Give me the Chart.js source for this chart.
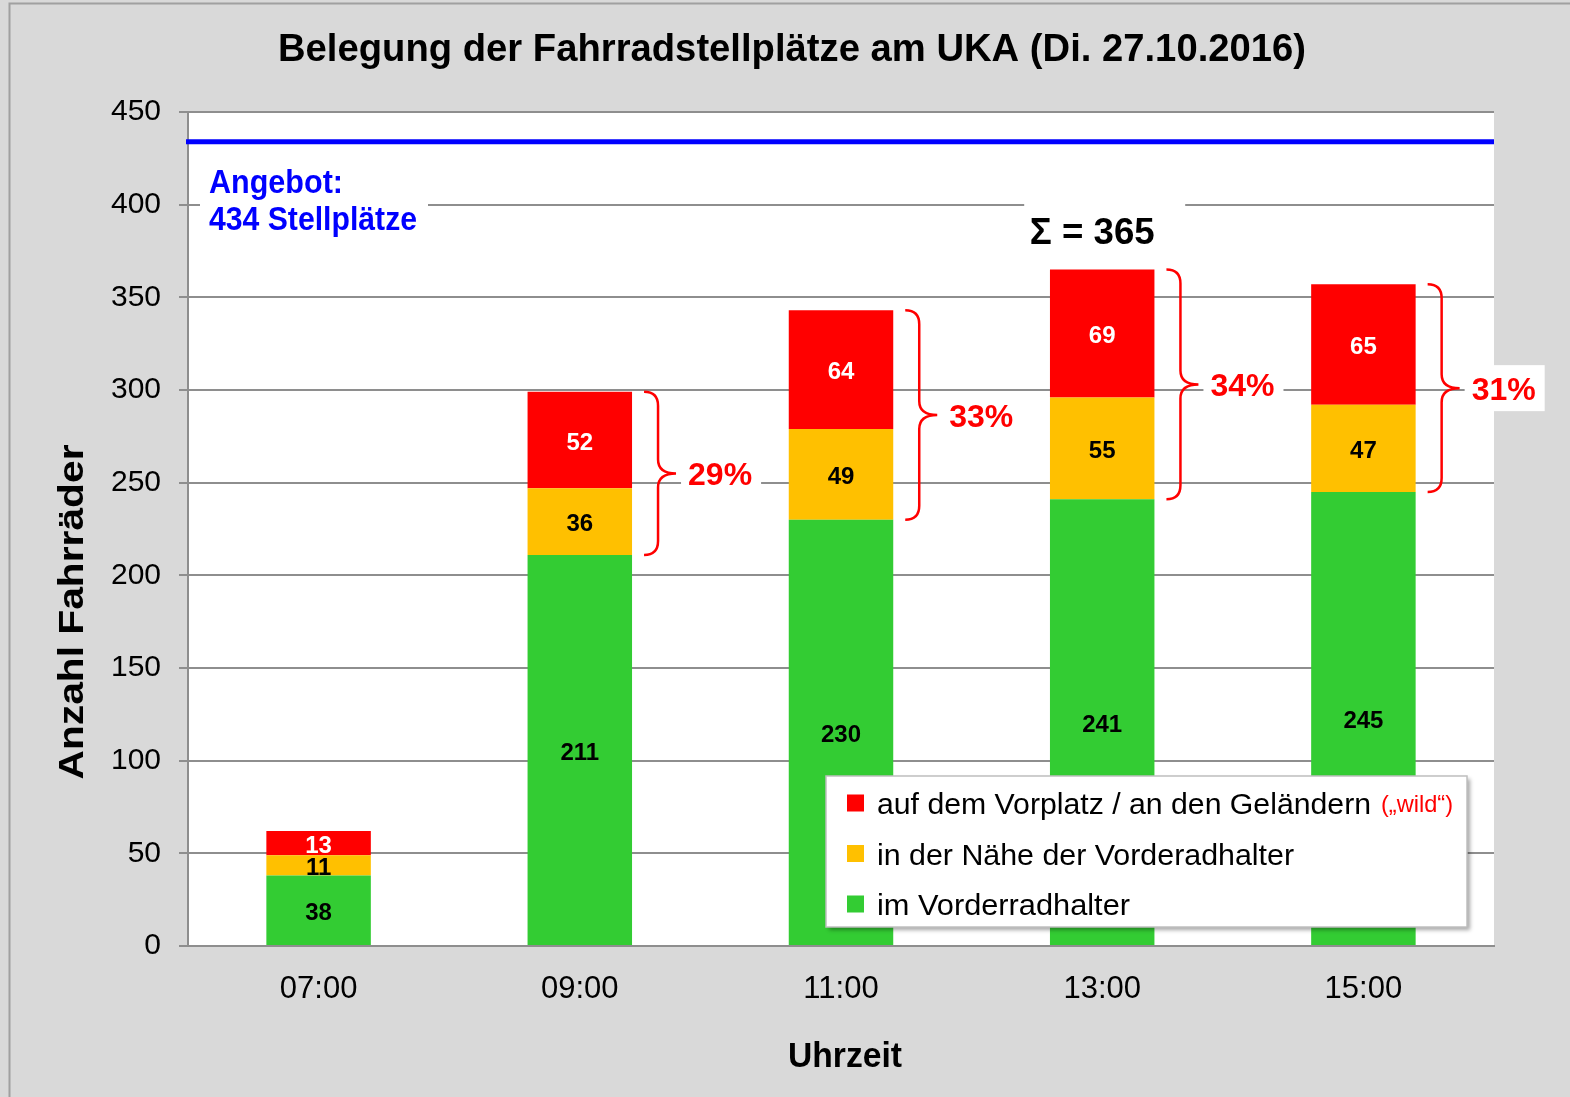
<!DOCTYPE html>
<html>
<head>
<meta charset="utf-8">
<script src="https://cdn.jsdelivr.net/npm/chart.js@4.4.0/dist/chart.umd.min.js"></script>
<style>
  html, body { margin: 0; padding: 0; background: #d9d9d9; }
  canvas { display: block; }
</style>
</head>
<body>
<canvas id="chart" width="1570" height="1097"></canvas>
<script>
// ========================
//    data
// ========================
const times = ['07:00', '09:00', '11:00', '13:00', '15:00'];
const imHalter = [38, 211, 230, 241, 245];   // green
const naehe = [11, 36, 49, 55, 47];          // yellow
const wild = [13, 52, 64, 69, 65];           // red
const seriesNames = ['auf dem Vorplatz / an den Geländern', 'in der Nähe der Vorderadhalter', 'im Vorderradhalter'];
const angebot = 434;
const yMax = 450;
const yStep = 50;

const FONT = '"Liberation Sans", Arial, sans-serif';
const RED = '#ff0000', YELLOW = '#ffc000', GREEN = '#33cc33', GRID = '#8e8e8e';

Chart.defaults.font.family = FONT;
Chart.defaults.color = '#000';

// text helper, w = target width (squeezes / stretches horizontally)
function txt(ctx, s, x, y, font, color, align, w, rot) {
  ctx.save();
  ctx.font = font;
  ctx.fillStyle = color;
  ctx.textBaseline = 'alphabetic';
  ctx.textAlign = align || 'left';
  const m = ctx.measureText(s).width;
  const sx = w ? w / m : 1;
  ctx.translate(x, y);
  if (rot) ctx.rotate(rot);
  ctx.scale(sx, 1);
  ctx.fillText(s, 0, 0);
  ctx.restore();
}

function brace(ctx, x, yTop, yBot) {
  const mid = (yTop + yBot) / 2, xs = x + 14, xt = x + 32, r = 14;
  ctx.save();
  ctx.strokeStyle = RED;
  ctx.lineWidth = 2.5;
  ctx.beginPath();
  ctx.moveTo(x, yTop);
  ctx.quadraticCurveTo(xs, yTop, xs, yTop + r);
  ctx.lineTo(xs, mid - r);
  ctx.quadraticCurveTo(xs, mid, xt, mid);
  ctx.quadraticCurveTo(xs, mid, xs, mid + r);
  ctx.lineTo(xs, yBot - r);
  ctx.quadraticCurveTo(xs, yBot, x, yBot);
  ctx.stroke();
  ctx.restore();
  return { tip: xt, mid: mid };
}

// background + frame
const bgPlugin = {
  id: 'bg',
  beforeDraw(chart) {
    const { ctx, chartArea: a } = chart;
    ctx.save();
    ctx.fillStyle = '#d9d9d9';
    ctx.fillRect(0, 0, chart.width, chart.height);
    ctx.strokeStyle = '#a0a0a0';
    ctx.lineWidth = 2;
    ctx.beginPath();
    ctx.moveTo(9.5, chart.height);
    ctx.lineTo(9.5, 3.5);
    ctx.lineTo(chart.width, 3.5);
    ctx.stroke();
    ctx.fillStyle = '#fff';
    ctx.fillRect(a.left, a.top, a.right - a.left, a.bottom - a.top);
    ctx.restore();
  }
};

// overlays: labels, braces, line, legend, titles
const overlayPlugin = {
  id: 'overlay',
  afterDatasetsDraw(chart) {
    const { ctx, chartArea: a, scales: { y } } = chart;

    // segment values
    const labelColors = ['#000', '#000', '#fff'];
    chart.data.datasets.forEach((ds, i) => {
      chart.getDatasetMeta(i).data.forEach((bar, j) => {
        ctx.save();
        ctx.font = 'bold 24px ' + FONT;
        ctx.fillStyle = labelColors[i];
        ctx.textAlign = 'center';
        ctx.textBaseline = 'middle';
        ctx.fillText(String(ds.data[j]), bar.x, (bar.y + bar.base) / 2 + 3);
        ctx.restore();
      });
    });

    // capacity line
    const yA = y.getPixelForValue(angebot);
    ctx.save();
    ctx.strokeStyle = '#0000ff';
    ctx.lineWidth = 5;
    ctx.beginPath();
    ctx.moveTo(a.left - 2, yA);
    ctx.lineTo(a.right, yA);
    ctx.stroke();
    ctx.fillStyle = '#fff';
    ctx.fillRect(a.left + 12, 160, 228, 80);
    ctx.restore();
    txt(ctx, 'Angebot:', a.left + 21, 193, 'bold 34px ' + FONT, '#0000ff', 'left', 134);
    txt(ctx, angebot + ' Stellplätze', a.left + 21, 230, 'bold 34px ' + FONT, '#0000ff', 'left', 208);

    // braces with share of bikes not in the racks
    const redMeta = chart.getDatasetMeta(2).data;
    const yelMeta = chart.getDatasetMeta(1).data;
    times.forEach((t, j) => {
      if (j === 0) return;
      const total = imHalter[j] + naehe[j] + wild[j];
      const pct = Math.round((naehe[j] + wild[j]) / total * 100) + '%';
      const top = redMeta[j], yel = yelMeta[j];
      const b = brace(ctx, top.x + top.width / 2 + 12, top.y, yel.base);
      ctx.save();
      ctx.font = 'bold 32px ' + FONT;
      const w = ctx.measureText(pct).width;
      ctx.fillStyle = '#fff';
      ctx.fillRect(b.tip + 5, b.mid - 23, w + 16, 46);
      ctx.restore();
      txt(ctx, pct, b.tip + 12, b.mid + 12, 'bold 32px ' + FONT, RED, 'left');
    });

    // sum above the highest bar
    const totals = times.map((t, j) => imHalter[j] + naehe[j] + wild[j]);
    const jMax = totals.indexOf(Math.max(...totals));
    const mb = redMeta[jMax];
    ctx.save();
    ctx.fillStyle = '#fff';
    ctx.fillRect(mb.x - 78, mb.y - 68, 161, 56);
    ctx.restore();
    txt(ctx, 'Σ = ' + totals[jMax], mb.x - 10, mb.y - 26, 'bold 36px ' + FONT, '#000', 'center', 125);

    // legend
    const lx = 826, ly = 776, lw = 641, lh = 151;
    ctx.save();
    ctx.shadowColor = 'rgba(0,0,0,0.35)';
    ctx.shadowOffsetX = 3;
    ctx.shadowOffsetY = 3;
    ctx.shadowBlur = 4;
    ctx.fillStyle = '#fff';
    ctx.fillRect(lx, ly, lw, lh);
    ctx.restore();
    ctx.save();
    ctx.strokeStyle = '#bfbfbf';
    ctx.lineWidth = 1.5;
    ctx.strokeRect(lx, ly, lw, lh);
    ctx.restore();
    const legColors = [RED, YELLOW, GREEN];
    const legW = [494, 417, 253];
    seriesNames.forEach((name, i) => {
      const cy = 803 + i * 50.5;
      ctx.fillStyle = legColors[i];
      ctx.fillRect(847, cy - 8.5, 17, 17);
      txt(ctx, name, 877, cy + 11, '30px ' + FONT, '#000', 'left', legW[i]);
    });
    txt(ctx, '(„wild“)', 1381, 812, '24px ' + FONT, RED, 'left', 72);

    // titles
    txt(ctx, 'Belegung der Fahrradstellplätze am UKA (Di. 27.10.2016)', 792, 61, 'bold 39px ' + FONT, '#000', 'center', 1028);
    txt(ctx, 'Anzahl Fahrräder', 83, 612, 'bold 35px ' + FONT, '#000', 'center', 335, -Math.PI / 2);
    txt(ctx, 'Uhrzeit', 845, 1067, 'bold 35px ' + FONT, '#000', 'center', 114);
  }
};

new Chart(document.getElementById('chart'), {
  type: 'bar',
  data: {
    labels: times,
    datasets: [
      { label: seriesNames[2], data: imHalter, backgroundColor: GREEN },
      { label: seriesNames[1], data: naehe, backgroundColor: YELLOW },
      { label: seriesNames[0], data: wild, backgroundColor: RED }
    ]
  },
  options: {
    responsive: false,
    animation: false,
    datasets: { bar: { barPercentage: 0.4, categoryPercentage: 1 } },
    layout: { padding: { top: 112, right: 76, left: 0, bottom: 0 } },
    plugins: {
      legend: { display: false },
      title: { display: false },
      tooltip: { enabled: false }
    },
    scales: {
      x: {
        stacked: true,
        grid: { display: false, drawTicks: false },
        border: { display: true, color: GRID, width: 2 },
        ticks: { font: { size: 31 }, color: '#000', padding: 25 },
        afterFit(s) { s.height = 151; }
      },
      y: {
        stacked: true,
        min: 0,
        max: yMax,
        ticks: { stepSize: yStep, font: { size: 30, lineHeight: 1.0 }, color: '#000', padding: 18 },
        grid: { color: GRID, lineWidth: 2, tickLength: 9, tickColor: GRID },
        border: { display: true, color: GRID, width: 2 },
        afterFit(s) { s.width = 188; }
      }
    }
  },
  plugins: [bgPlugin, overlayPlugin]
});
</script>
</body>
</html>
